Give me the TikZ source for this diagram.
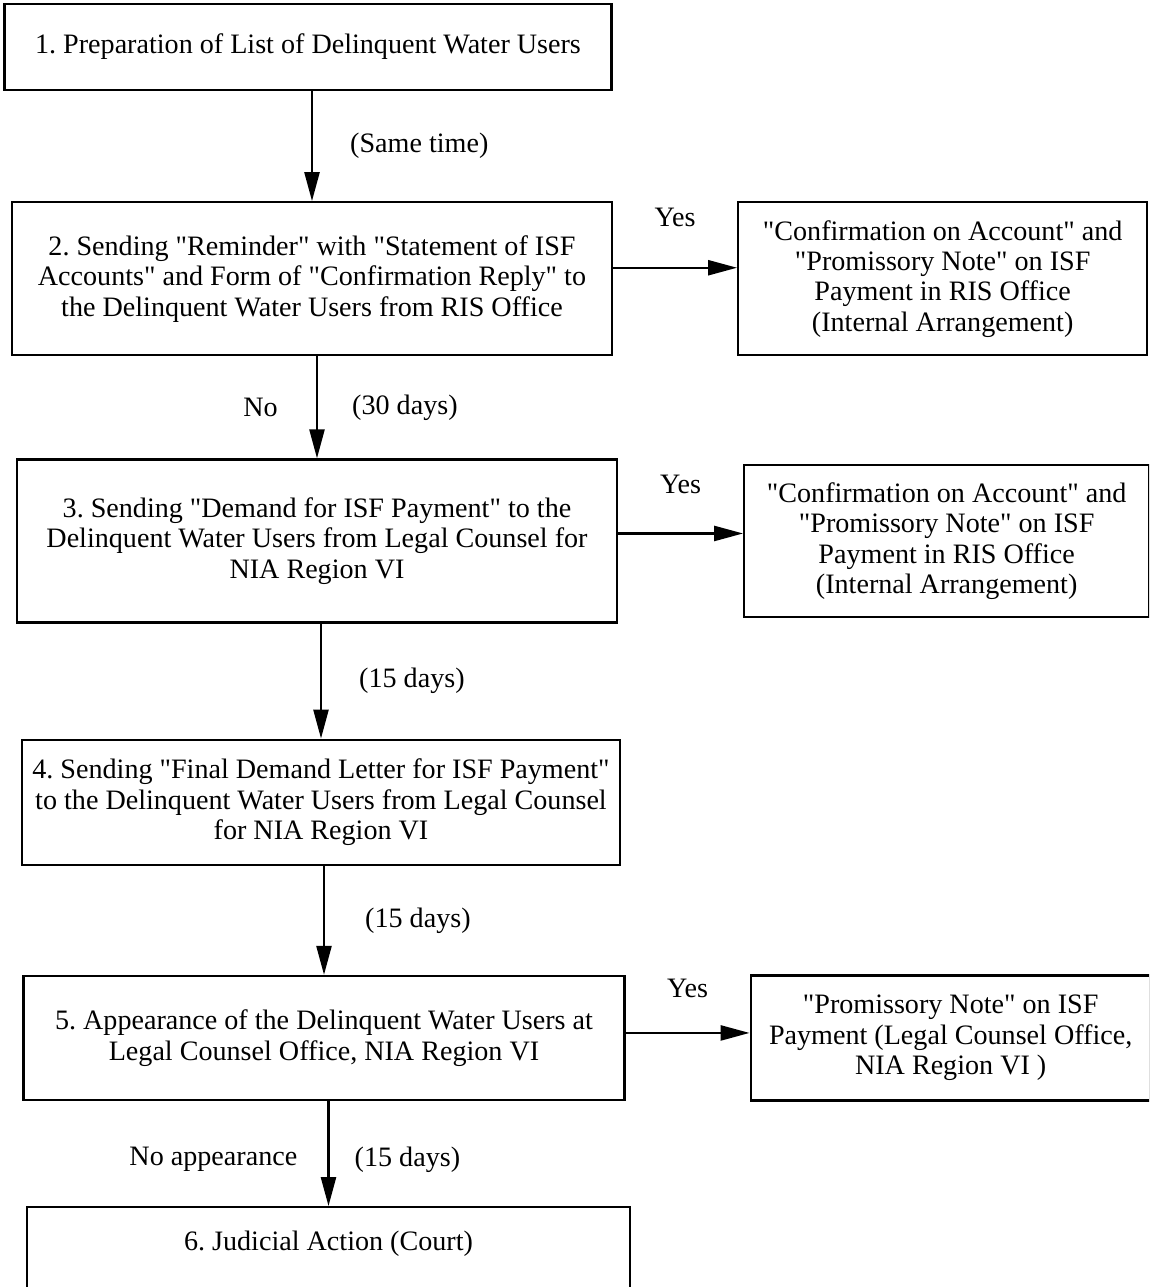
\documentclass[tikz,border=0pt]{standalone}
\usepackage{fontspec}
\setmainfont{Liberation Serif}[Ligatures=TeXOff]
\usetikzlibrary{arrows.meta,positioning}

\begin{document}
\begin{tikzpicture}[
        x=0.02cm, y=-0.02cm,
        >={Triangle[length=0.58cm,width=0.3cm]},
        box/.style={draw, align=center, line width=1.3pt, inner sep=2pt, font=\fontsize{16}{17.3}\selectfont\frenchspacing},
        lbl/.style={inner sep=0pt, font=\fontsize{16}{17.3}\selectfont},
        flow/.style={->, line width=1.4pt}
    ]
    \useasboundingbox (0,0) rectangle (1149,1287);
    \clip (0,0) rectangle (1149,1287);

    % main column
    \node (list) [box, minimum width=12.14cm, minimum height=1.72cm] at (308,47) {1. Preparation of List of Delinquent Water Users};
    \node (reminder) [box, minimum width=12cm, minimum height=3.06cm, below=2.2cm of list, xshift=0.08cm] {2. Sending "Reminder" with "Statement of ISF\\Accounts" and Form of "Confirmation Reply" to\\the Delinquent Water Users from RIS Office};
    \node (demand) [box, minimum width=12cm, minimum height=3.26cm, below=2.04cm of reminder, xshift=0.1cm] {3. Sending "Demand for ISF Payment" to the\\Delinquent Water Users from Legal Counsel for\\NIA Region VI};
    \node (final) [box, minimum width=11.96cm, minimum height=2.5cm, below=2.3cm of demand, xshift=0.08cm] {4. Sending "Final Demand Letter for ISF Payment"\\to the Delinquent Water Users from Legal Counsel\\for NIA Region VI};
    \node (appear) [box, minimum width=12.02cm, minimum height=2.48cm, below=2.18cm of final, xshift=0.06cm] {5. Appearance of the Delinquent Water Users at\\Legal Counsel Office, NIA Region VI};
    \node (court) [box, minimum width=12.06cm, text height=0.8cm, text depth=0.95cm, below=2.1cm of appear, xshift=0.09cm] {6. Judicial Action (Court)};

    % side outcomes
    \node (confirmA) [box, minimum width=8.18cm, minimum height=3.06cm, right=2.48cm of reminder] {"Confirmation on Account" and\\"Promissory Note" on ISF\\Payment in RIS Office\\(Internal Arrangement)};
    \node (confirmB) [box, minimum width=8.1cm, minimum height=3.04cm, right=2.5cm of demand] {"Confirmation on Account" and\\"Promissory Note" on ISF\\Payment in RIS Office\\(Internal Arrangement)};
    \node (note) [box, minimum width=8.0cm, minimum height=2.5cm, right=2.48cm of appear] {"Promissory Note" on ISF\\Payment (Legal Counsel Office,\\NIA Region VI )};

    \draw[flow] (list.south -| reminder.north) -- node[lbl, right=0.74cm] {(Same time)} (reminder.north);
    \draw[flow] (reminder.south -| demand.north) -- node[lbl, left=0.76cm] {No} node[lbl, right=0.68cm] {(30 days)} (demand.north);
    \draw[flow] (demand.south -| final.north) -- node[lbl, right=0.74cm] {(15 days)} (final.north);
    \draw[flow] (final.south -| appear.north) -- node[lbl, right=0.8cm] {(15 days)} (appear.north);
    \draw[flow] (appear.south -| court.north) -- node[lbl, left=0.6cm, yshift=-0.12cm] {No appearance} node[lbl, right=0.5cm, yshift=-0.12cm] {(15 days)} (court.north);

    \draw[flow] ([yshift=0.22cm]reminder.east) -- node[lbl, yshift=1.0cm] {Yes} ([yshift=0.22cm]reminder.east -| confirmA.west);
    \draw[flow] ([yshift=0.15cm]demand.east) -- node[lbl, yshift=0.98cm] {Yes} ([yshift=0.15cm]demand.east -| confirmB.west);
    \draw[flow] ([yshift=0.1cm]appear.east) -- node[lbl, yshift=0.9cm] {Yes} ([yshift=0.1cm]appear.east -| note.west);
\end{tikzpicture}
\end{document}
